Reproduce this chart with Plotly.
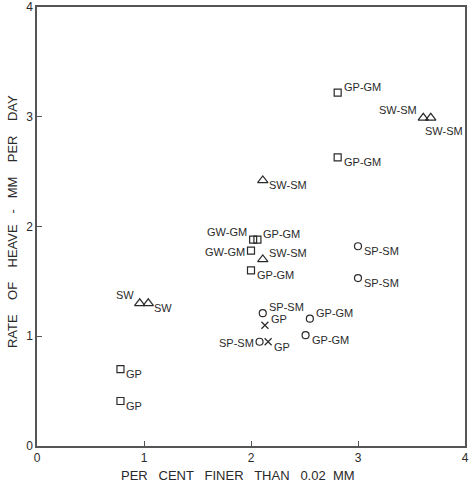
import plotly.graph_objects as go

# Data
sq_x = [2.81, 2.81, 2.02, 2.06, 2.00, 2.00, 0.78, 0.78]
sq_y = [3.22, 2.63, 1.88, 1.88, 1.78, 1.60, 0.70, 0.41]
sq_lbl = ["GP-GM", "GP-GM", "GW-GM", "GP-GM", "GW-GM", "GP-GM", "GP", "GP"]

tri_x = [3.61, 3.68, 2.11, 2.11, 0.96, 1.04]
tri_y = [2.99, 2.99, 2.42, 1.70, 1.30, 1.30]
tri_lbl = ["SW-SM", "SW-SM", "SW-SM", "SW-SM", "SW", "SW"]

cir_x = [3.00, 3.00, 2.11, 2.55, 2.08, 2.51]
cir_y = [1.82, 1.53, 1.21, 1.16, 0.95, 1.01]
cir_lbl = ["SP-SM", "SP-SM", "SP-SM", "GP-GM", "SP-SM", "GP-GM"]

x_x = [2.13, 2.16]
x_y = [1.10, 0.95]
x_lbl = ["GP", "GP"]

x_ticks = [0, 1, 2, 3, 4]
y_ticks = [0, 1, 2, 3, 4]

# label placement (style)
sq_pos = ["tr", "br", "tl", "tr", "ml", "br", "br", "br"]
tri_pos = ["tl", "bb", "br", "tr", "tl", "br"]
cir_pos = ["br", "br", "tr", "tr", "ml", "br"]
x_pos = ["tr", "br"]

INK = "#2a2a2a"
FONT = "Liberation Sans"
PLACE = {
    "tr": ("left", 4, 6),
    "br": ("left", 4, -5),
    "bb": ("left", -8, -13),
    "tl": ("right", -4, 8),
    "ml": ("right", -4, -1),
}

fig = go.Figure()
annotations = []

def add(xs, ys, lbls, pos, symbol, size):
    fig.add_trace(go.Scatter(
        x=xs, y=ys, mode="markers",
        marker=dict(symbol=symbol, size=size, color=INK, line=dict(color=INK, width=1.2)),
        cliponaxis=False, showlegend=False, hoverinfo="skip"))
    for xv, yv, t, p in zip(xs, ys, lbls, pos):
        xa, dx, dy = PLACE[p]
        annotations.append(dict(
            x=xv, y=yv, xref="x", yref="y", text=t, showarrow=False,
            xanchor=xa, yanchor="middle", xshift=dx, yshift=dy,
            font=dict(family=FONT, size=11, color=INK)))

add(sq_x, sq_y, sq_lbl, sq_pos, "square-open", 7)
add(tri_x, tri_y, tri_lbl, tri_pos, "triangle-up-open", 9)
add(cir_x, cir_y, cir_lbl, cir_pos, "circle-open", 7)
add(x_x, x_y, x_lbl, x_pos, "x-thin-open", 7)

annotations.append(dict(
    x=0.47, y=-0.046, xref="paper", yref="paper", yanchor="top", xanchor="center",
    text="PER   CENT   FINER   THAN   0.02  MM", showarrow=False,
    font=dict(family=FONT, size=13, color=INK)))
annotations.append(dict(
    x=0, y=0.51, xref="paper", yref="paper", xanchor="center", yanchor="middle",
    xshift=-25,
    text="RATE    OF    HEAVE   -   MM    PER    DAY", textangle=-90, showarrow=False,
    font=dict(family=FONT, size=13, color=INK)))

axis_common = dict(
    showgrid=False, zeroline=False, showline=True, linecolor="#555", linewidth=1.5,
    mirror=True, ticks="inside", ticklen=5, tickcolor="#555", tickwidth=1.2,
    tickfont=dict(family=FONT, size=12, color=INK), automargin=False,
)

fig.update_layout(
    width=469, height=484,
    margin=dict(l=37, r=4, t=7, b=38),
    paper_bgcolor="white", plot_bgcolor="white",
    annotations=annotations,
    xaxis=dict(range=[0, 4], tickvals=x_ticks, ticktext=[str(v) for v in x_ticks],
               **axis_common),
    yaxis=dict(range=[0, 4], tickvals=y_ticks, ticktext=[str(v) for v in y_ticks],
               **axis_common),
)

fig.write_html("out.html", config={"displayModeBar": False},
               post_script="document.body.style.margin='0';")
